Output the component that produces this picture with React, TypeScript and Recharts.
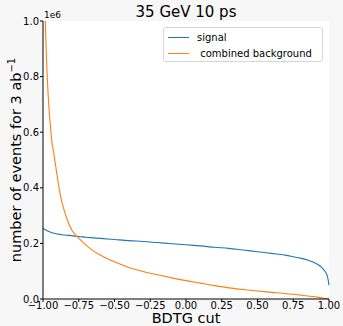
import { LineChart, Line, XAxis, YAxis, CartesianGrid } from 'recharts';

const cutValues = [
  -1.0, -0.99, -0.975, -0.96, -0.95, -0.94, -0.925, -0.9, -0.875, -0.85, -0.825, -0.8, -0.775, -0.75,
  -0.7, -0.65, -0.6, -0.55, -0.5, -0.4, -0.3, -0.2, -0.1, 0, 0.1, 0.2, 0.3, 0.4, 0.5, 0.6, 0.7, 0.75,
  0.8, 0.85, 0.9, 0.925, 0.95, 0.975, 0.99, 1.0,
];

// events, in units of 1e6
const signalValues = [
  0.255, 0.251, 0.247, 0.243, 0.241, 0.239, 0.237, 0.234, 0.232, 0.23, 0.229, 0.228, 0.226, 0.225,
  0.222, 0.22, 0.218, 0.216, 0.214, 0.21, 0.207, 0.203, 0.199, 0.195, 0.191, 0.186, 0.182, 0.176,
  0.17, 0.164, 0.157, 0.152, 0.147, 0.14, 0.13, 0.123, 0.113, 0.097, 0.08, 0.05,
];

const backgroundValues = [
  1.45, 1.12, 0.86, 0.7, 0.635, 0.575, 0.525, 0.44, 0.365, 0.315, 0.278, 0.249, 0.232, 0.219,
  0.194, 0.174, 0.158, 0.145, 0.134, 0.113, 0.099, 0.087, 0.076, 0.066, 0.057, 0.048, 0.04, 0.034,
  0.029, 0.024, 0.019, 0.017, 0.014, 0.011, 0.008, 0.006, 0.004, 0.002, 0.001, 0.0,
];

const xTicks = [-1, -0.75, -0.5, -0.25, 0, 0.25, 0.5, 0.75, 1];
const yTicks = [0, 0.2e6, 0.4e6, 0.6e6, 0.8e6, 1.0e6];

const legendItems = [
  { label: 'signal', color: '#1f77b4' },
  { label: ' combined background', color: '#ff7f0e' },
];

const data = cutValues.map((cut, i) => ({
  cut,
  signal: signalValues[i] * 1e6,
  background: backgroundValues[i] * 1e6,
}));

const font = '"DejaVu Sans", sans-serif';
const tickStyle = { fontSize: 10, fill: '#000', fontFamily: font };
const fmtX = (v: number) => v.toFixed(2).replace('-', '\u2212');
const fmtY = (v: number) => (v / 1e6).toFixed(1);

export default function App() {
  return (
    <div style={{ position: 'absolute', left: 0, top: 0, width: 343, height: 326, background: '#f7f7f7', fontFamily: font }}>
      <LineChart width={343} height={326} data={data} margin={{ top: 21, right: 14, left: 0, bottom: 0 }}>
        <CartesianGrid fill="#fff" horizontal={false} vertical={false} />
        <XAxis
          dataKey="cut"
          type="number"
          domain={[-1, 1]}
          ticks={xTicks}
          tickFormatter={fmtX}
          tick={tickStyle}
          tickSize={3}
          tickMargin={0}
          height={27}
          stroke="#000"
          interval={0}
        />
        <XAxis xAxisId="top" orientation="top" type="number" dataKey="cut" domain={[-1, 1]} tick={false} tickLine={false} height={0} stroke="#000" />
        <YAxis
          type="number"
          domain={[0, 1e6]}
          allowDataOverflow
          ticks={yTicks}
          tickFormatter={fmtY}
          tick={tickStyle}
          tickSize={3}
          tickMargin={1}
          width={43}
          stroke="#000"
          interval={0}
        />
        <YAxis yAxisId="right" orientation="right" type="number" domain={[0, 1e6]} tick={false} tickLine={false} width={0} stroke="#000" />
        <Line type="monotone" dataKey="signal" stroke="#1f77b4" strokeWidth={1.1} dot={false} isAnimationActive={false} />
        <Line type="monotone" dataKey="background" stroke="#ff7f0e" strokeWidth={1.1} dot={false} isAnimationActive={false} />
      </LineChart>

      {/* legend box, upper right of the axes */}
      <div
        style={{
          position: 'absolute',
          left: 163,
          top: 27,
          width: 160,
          height: 35,
          boxSizing: 'border-box',
          border: '1px solid #d6d6d6',
          borderRadius: 3,
          background: 'rgba(255,255,255,0.8)',
          fontSize: 10,
          paddingTop: 1,
        }}
      >
        {legendItems.map((e) => (
          <div key={e.label} style={{ display: 'flex', alignItems: 'center', height: 16 }}>
            <span style={{ width: 21, height: 0, borderTop: `1.2px solid ${e.color}`, marginLeft: 4, marginRight: 8 }} />
            <span style={{ whiteSpace: 'pre' }}>{e.label}</span>
          </div>
        ))}
      </div>

      <div style={{ position: 'absolute', left: 0, width: 372, top: 3, textAlign: 'center', fontSize: 15, lineHeight: '18px' }}>
        35 GeV 10 ps
      </div>
      <div style={{ position: 'absolute', left: 44, top: 10, fontSize: 9, lineHeight: '11px' }}>1e6</div>
      <div style={{ position: 'absolute', left: 43, width: 286, top: 312, textAlign: 'center', fontSize: 14.5, lineHeight: '12px' }}>
        BDTG cut
      </div>
      <div
        style={{
          position: 'absolute',
          left: 16,
          top: 160,
          transform: 'translate(-50%, -50%) rotate(-90deg)',
          whiteSpace: 'nowrap',
          fontSize: 14.5,
          lineHeight: '18px',
        }}
      >
        number of events for 3 ab<sup style={{ fontSize: 10, verticalAlign: 'top', lineHeight: '10px' }}>{'\u22121'}</sup>
      </div>
    </div>
  );
}
